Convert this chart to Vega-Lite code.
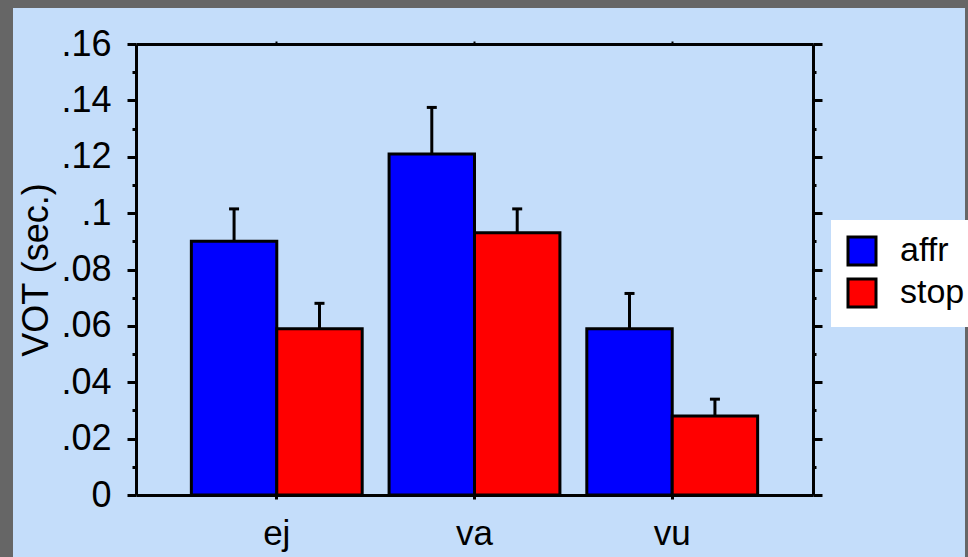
{
  "$schema": "https://vega.github.io/schema/vega-lite/v6.json",
  "width": 952,
  "height": 549,
  "autosize": {"type": "none"},
  "padding": {"left": 13, "top": 8, "right": 3, "bottom": 0},
  "background": "#666666",
  "config": {
    "view": {"fill": "#c4ddfa", "stroke": null},
    "font": "Liberation Sans"
  },
  "data": {
    "values": [
      {"cons": "ej", "grp": "affr", "mean": 0.090, "upper": 0.1015},
      {"cons": "ej", "grp": "stop", "mean": 0.059, "upper": 0.068},
      {"cons": "va", "grp": "affr", "mean": 0.121, "upper": 0.1375},
      {"cons": "va", "grp": "stop", "mean": 0.093, "upper": 0.1015},
      {"cons": "vu", "grp": "affr", "mean": 0.059, "upper": 0.0715},
      {"cons": "vu", "grp": "stop", "mean": 0.028, "upper": 0.034}
    ]
  },
  "resolve": {"axis": {"x": "independent", "y": "independent"}},
  "layer": [
    {
      "mark": {"type": "bar", "stroke": "black", "strokeWidth": 3},
      "encoding": {
        "x": {
          "field": "cons", "type": "nominal", "sort": ["ej", "va", "vu"],
          "scale": {"range": [123, 800], "paddingInner": 0.136, "paddingOuter": 0.28},
          "axis": {
            "orient": "bottom", "offset": -62, "title": null, "labelAngle": 0,
            "tickSize": 4, "tickWidth": 3, "tickColor": "black",
            "domainColor": "black", "domainWidth": 3,
            "labelFontSize": 35, "labelColor": "black", "labelPadding": 17
          }
        },
        "xOffset": {
          "field": "grp", "type": "nominal", "sort": ["affr", "stop"],
          "scale": {"paddingInner": 0, "paddingOuter": 0}
        },
        "y": {
          "field": "mean", "type": "quantitative",
          "scale": {"domain": [0, 0.16], "range": [487, 36], "nice": false, "zero": true},
          "axis": {
            "orient": "left", "offset": -123,
            "values": [0, 0.01, 0.02, 0.03, 0.04, 0.05, 0.06, 0.07, 0.08, 0.09, 0.1, 0.11, 0.12, 0.13, 0.14, 0.15, 0.16],
            "labelExpr": "round(datum.value*100) % 2 == 1 ? '' : replace(format(datum.value, '.2~f'), '0.', '.')",
            "labelOverlap": false,
            "grid": false,
            "tickSize": {"condition": {"test": "round(datum.value*100) % 2 == 1", "value": 4}, "value": 9},
            "tickWidth": 3, "tickColor": "black",
            "domainColor": "black", "domainWidth": 3,
            "labelFontSize": 36, "labelColor": "black", "labelPadding": 16,
            "title": "VOT (sec.)", "titleFontSize": 36, "titleFontWeight": "normal",
            "titleColor": "black", "titlePadding": 5
          }
        },
        "color": {
          "field": "grp", "type": "nominal",
          "scale": {"domain": ["affr", "stop"], "range": ["#0000ff", "#ff0000"]},
          "legend": {
            "orient": "none", "legendX": 818, "legendY": 212, "title": null,
            "symbolType": "square", "symbolSize": 784,
            "symbolStrokeColor": "black", "symbolStrokeWidth": 3, "symbolOpacity": 1,
            "fillColor": "white", "padding": 14,
            "labelFontSize": 34, "labelColor": "black", "labelOffset": 21, "rowPadding": 2
          }
        }
      }
    },
    {
      "mark": {"type": "rule", "color": "black", "strokeWidth": 3},
      "encoding": {
        "x": {
          "field": "cons", "type": "nominal", "sort": ["ej", "va", "vu"],
          "scale": {"range": [123, 800], "paddingInner": 0.136, "paddingOuter": 0.28},
          "axis": {
            "orient": "top", "offset": -36, "title": null, "labels": false,
            "tickSize": 3, "tickWidth": 2, "tickColor": "black",
            "domainColor": "black", "domainWidth": 3
          }
        },
        "xOffset": {
          "field": "grp", "type": "nominal", "sort": ["affr", "stop"],
          "scale": {"paddingInner": 0, "paddingOuter": 0}
        },
        "y": {
          "field": "mean", "type": "quantitative",
          "scale": {"domain": [0, 0.16], "range": [487, 36], "nice": false, "zero": true},
          "axis": {
            "orient": "right", "offset": -152, "title": null, "labels": false, "grid": false,
            "values": [0, 0.01, 0.02, 0.03, 0.04, 0.05, 0.06, 0.07, 0.08, 0.09, 0.1, 0.11, 0.12, 0.13, 0.14, 0.15, 0.16],
            "tickSize": {"condition": {"test": "round(datum.value*100) % 2 == 1", "value": 3}, "value": 9},
            "tickWidth": 3, "tickColor": "black",
            "domainColor": "black", "domainWidth": 3
          }
        },
        "y2": {"field": "upper"}
      }
    },
    {
      "mark": {"type": "tick", "color": "black", "size": 10, "thickness": 3, "opacity": 1},
      "encoding": {
        "x": {"field": "cons", "type": "nominal", "sort": ["ej", "va", "vu"], "axis": null},
        "xOffset": {"field": "grp", "type": "nominal", "sort": ["affr", "stop"]},
        "y": {"field": "upper", "type": "quantitative", "axis": null}
      }
    }
  ]
}
